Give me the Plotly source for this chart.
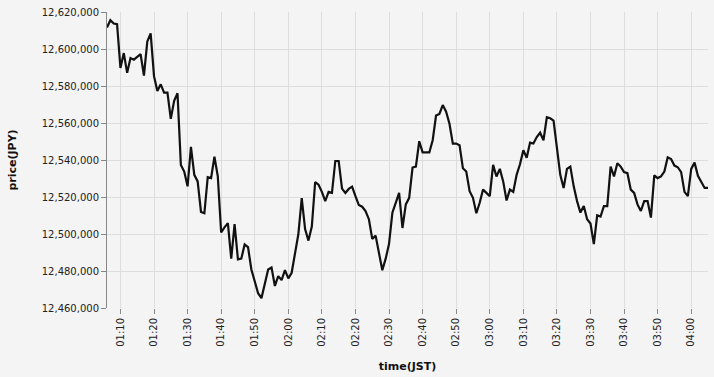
import pandas as pd
import plotly.graph_objects as go

start_time = "2021-01-01 01:06"
prices = [
    12611644, 12615556, 12613778, 12613422, 12589778, 12597778, 12587111, 12595111, 12594222, 12596000,
    12597244, 12585667, 12604000, 12608444, 12585333, 12577333, 12580889, 12576444, 12576444, 12562222,
    12572000, 12576089, 12537333, 12533778, 12525778, 12547111, 12532000, 12528444, 12511911, 12511200,
    12530756, 12530222, 12541778, 12531111, 12500889, 12503556, 12505867, 12486667, 12505333, 12486311,
    12486667, 12494311, 12492889, 12480800, 12474222, 12468000, 12465333, 12472444, 12480800, 12481867,
    12471911, 12477244, 12475111, 12480444, 12476000, 12479022, 12489333, 12500000, 12519444, 12502667,
    12496444, 12504000, 12528089, 12526667, 12522756, 12517778, 12522756, 12522222, 12539467, 12539467,
    12524533, 12522222, 12524356, 12525600, 12520444, 12515644, 12514756, 12512444, 12508000, 12497333,
    12499111, 12489333, 12480444, 12486667, 12494667, 12511556, 12516889, 12522222, 12503244, 12516000,
    12519556, 12535911, 12536444, 12550133, 12544089, 12544089, 12544089, 12550667, 12564000, 12564889,
    12569689, 12566133, 12559556, 12548889, 12548889, 12548000, 12535556, 12533778, 12523111, 12519556,
    12511200, 12516889, 12524000, 12522222, 12520444, 12537333, 12531111, 12535200, 12528444, 12518133,
    12524000, 12522756, 12532000, 12537689, 12545333, 12541244, 12549422, 12548889, 12552444, 12554756,
    12550667, 12563111, 12562578, 12561333, 12547111, 12532000, 12524889, 12535200, 12536444, 12525778,
    12517778, 12511556, 12515111, 12508000, 12505689, 12494533, 12510133, 12509422, 12515111, 12515111,
    12536444, 12531111, 12538222, 12536444, 12533422, 12532889, 12524000, 12522222, 12516000, 12512444,
    12517778, 12517778, 12508889, 12531644, 12530222, 12531111, 12533778, 12541422, 12540533, 12536978,
    12536089, 12533422, 12522756, 12520444, 12535200, 12538578, 12531467, 12527911, 12524889, 12524889,
]
times = pd.date_range(start_time, periods=len(prices), freq="1min")

y_ticks = list(range(12460000, 12620001, 20000))
x_ticks = pd.date_range("2021-01-01 01:10", "2021-01-01 04:00", freq="10min")
x_labels = [t.strftime("%H:%M") for t in x_ticks]

fig = go.Figure(
    go.Scatter(
        x=times, y=prices, mode="lines",
        line=dict(color="#111111", width=2.2),
        hoverinfo="skip",
    )
)

font_family = "DejaVu Sans"
fig.update_layout(
    width=714, height=377,
    margin=dict(l=107, r=6, t=10, b=67),
    paper_bgcolor="#f4f4f4",
    plot_bgcolor="#f4f4f4",
    showlegend=False,
    font=dict(family=font_family, size=10, color="#222222"),
)
fig.update_xaxes(
    range=[times[0], times[-1]],
    tickvals=list(x_ticks), ticktext=x_labels,
    tickangle=-90,
    showgrid=True, gridcolor="#dddddd", gridwidth=1,
    ticks="outside", ticklen=5, tickcolor="#888888",
    showline=False, zeroline=False,
    tickfont=dict(size=10, color="#222222"),
    title=dict(text="<b>time(JST)</b>", font=dict(size=11, color="#111111"), standoff=16),
)
fig.update_yaxes(
    range=[12460000, 12620000],
    tickvals=y_ticks, tickformat=",d",
    showgrid=True, gridcolor="#dddddd", gridwidth=1,
    ticks="outside", ticklen=5, tickcolor="#888888",
    showline=True, linecolor="#888888", linewidth=1,
    zeroline=False,
    tickfont=dict(size=10, color="#222222"),
    title=dict(text="<b>price(JPY)</b>", font=dict(size=11, color="#111111"), standoff=22),
)

fig.write_html("out.html")
